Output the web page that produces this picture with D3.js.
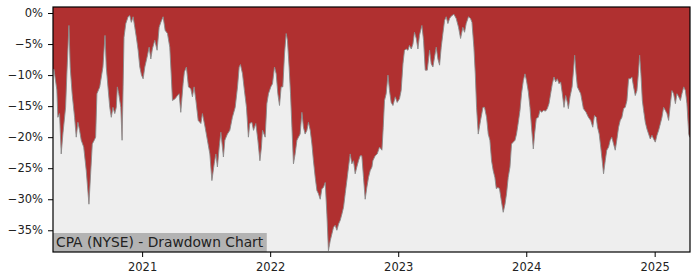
<!DOCTYPE html>
<html>
<head>
<meta charset="utf-8">
<script src="https://cdn.jsdelivr.net/npm/d3@7"></script>
<style>
  body { margin: 0; background: #fff; }
  svg text { font-family: "DejaVu Sans", sans-serif; }
</style>
</head>
<body>
<div id="chart"></div>
<script>
// decimal years and drawdown (%)
const years = [
  2020.313,2020.336,2020.344,2020.357,2020.370,2020.383,2020.404,2020.414,2020.430,2020.440,
  2020.455,2020.474,2020.487,2020.500,2020.513,2020.526,2020.545,2020.565,2020.586,2020.599,
  2020.612,2020.627,2020.638,2020.648,2020.670,2020.695,2020.711,2020.721,2020.734,2020.748,
  2020.760,2020.773,2020.787,2020.799,2020.807,2020.818,2020.834,2020.844,2020.852,2020.859,
  2020.873,2020.891,2020.904,2020.916,2020.930,2020.943,2020.955,2020.969,2020.982,2020.995,
  2021.008,2021.021,2021.039,2021.055,2021.068,2021.080,2021.099,2021.117,2021.133,
  2021.146,2021.164,2021.180,2021.198,2021.216,2021.227,2021.237,2021.258,2021.276,2021.289,
  2021.302,2021.320,2021.330,2021.346,2021.362,2021.380,2021.393,2021.406,2021.420,2021.438,
  2021.459,2021.471,2021.492,2021.510,2021.529,2021.545,2021.563,2021.576,2021.588,2021.602,
  2021.615,2021.627,2021.635,2021.646,2021.666,2021.685,2021.705,2021.727,2021.745,2021.758,
  2021.768,2021.784,2021.799,2021.815,2021.830,2021.841,2021.857,2021.870,2021.888,2021.904,
  2021.920,2021.932,2021.940,2021.961,
  2021.974,2021.987,2022.005,2022.018,2022.034,2022.047,2022.060,2022.073,2022.086,2022.099,
  2022.112,2022.125,2022.135,2022.148,2022.159,2022.170,2022.182,2022.195,2022.209,2022.221,
  2022.234,2022.248,2022.260,2022.273,2022.287,2022.299,2022.313,2022.326,2022.338,2022.352,
  2022.365,2022.377,2022.391,2022.404,2022.416,2022.430,2022.443,2022.455,2022.469,2022.482,
  2022.495,2022.508,2022.521,2022.534,2022.547,2022.560,2022.573,2022.586,2022.599,2022.612,
  2022.625,2022.638,2022.651,2022.664,2022.677,2022.690,2022.703,2022.716,2022.729,2022.742,
  2022.755,2022.768,2022.781,2022.795,
  2022.802,2022.820,2022.836,2022.854,2022.873,2022.883,2022.893,2022.906,2022.920,2022.932,
  2022.945,2022.959,2022.977,2022.992,2023.010,2023.023,2023.037,2023.049,2023.063,2023.076,
  2023.088,2023.102,2023.115,2023.127,2023.141,2023.154,2023.166,2023.185,2023.198,2023.211,
  2023.227,2023.245,2023.258,2023.271,2023.284,2023.297,2023.310,2023.323,2023.336,2023.349,
  2023.362,2023.375,2023.388,2023.401,2023.414,2023.435,2023.453,2023.471,2023.487,2023.505,
  2023.518,2023.531,2023.549,2023.565,2023.576,2023.591,2023.602,2023.612,2023.625,
  2023.643,2023.662,2023.674,2023.690,2023.703,2023.716,2023.729,2023.742,2023.755,2023.766,
  2023.779,2023.791,2023.805,2023.820,2023.834,2023.846,2023.859,2023.873,2023.885,2023.898,
  2023.912,2023.924,2023.938,2023.951,2023.963,2023.977,2023.990,2024.002,2024.016,2024.029,
  2024.041,2024.055,2024.065,2024.078,2024.094,2024.107,2024.120,2024.133,2024.151,2024.164,
  2024.177,2024.190,2024.203,2024.216,2024.229,2024.242,2024.255,2024.268,2024.281,2024.294,
  2024.307,2024.320,2024.328,2024.341,2024.357,2024.370,2024.377,2024.388,2024.398,2024.412,
  2024.424,2024.445,
  2024.466,2024.484,2024.502,2024.518,2024.531,2024.545,2024.555,2024.568,2024.580,2024.594,
  2024.602,2024.615,2024.627,2024.641,2024.654,2024.666,2024.680,2024.693,2024.705,2024.719,
  2024.732,2024.745,2024.758,2024.771,2024.784,2024.797,2024.810,2024.823,2024.836,2024.849,
  2024.862,2024.873,2024.883,2024.893,2024.904,2024.914,2024.927,2024.940,2024.953,2024.966,
  2024.979,2024.992,2025.005,2025.018,2025.031,2025.045,2025.057,2025.070,2025.084,2025.096,
  2025.109,2025.123,2025.135,2025.148,2025.162,2025.174,2025.188,2025.201,2025.213,2025.227,
  2025.240,2025.252,2025.266,2025.273
];

const drawdown = [
  -9.0,-12.4,-16.8,-16.2,-22.7,-19.5,-15.2,-9.8,-2.0,-8.7,
  -13.0,-16.8,-20.0,-17.6,-18.9,-20.5,-21.6,-25.4,-30.8,-25.9,
  -21.1,-20.5,-20.0,-13.0,-11.9,-8.7,-3.6,-8.7,-11.9,-15.2,
  -16.8,-15.2,-16.2,-15.2,-11.9,-13.0,-15.2,-20.5,-11.9,-3.9,
  -1.7,-0.6,-0.4,-1.5,-0.6,-2.3,-3.9,-6.0,-8.7,-10.0,
  -10.6,-8.7,-7.1,-5.5,-7.4,-5.8,-4.4,-6.0,-2.3,
  -1.5,-0.6,-2.8,-3.3,-5.5,-9.8,-14.1,-13.8,-13.3,-13.0,
  -16.0,-11.4,-9.5,-8.7,-11.9,-12.2,-13.5,-11.9,-14.1,-17.3,
  -17.8,-16.2,-18.4,-20.5,-22.7,-27.0,-24.3,-22.7,-24.8,-21.6,
  -19.2,-21.6,-23.2,-20.5,-19.5,-18.9,-16.8,-15.2,-11.9,-8.7,
  -8.3,-9.8,-12.5,-15.2,-20.0,-17.8,-17.6,-18.9,-17.8,-20.5,
  -23.8,-21.6,-18.9,-20.0,
  -14.6,-13.0,-11.9,-11.4,-8.7,-9.8,-13.0,-14.9,-11.9,-11.9,
  -6.6,-3.3,-4.4,-8.7,-13.0,-18.4,-24.3,-22.7,-20.5,-20.0,
  -19.5,-16.0,-18.4,-19.5,-18.9,-17.6,-18.9,-21.1,-23.8,-26.5,
  -28.6,-29.1,-30.0,-28.3,-28.1,-27.3,-32.4,-38.3,-36.7,-35.6,
  -34.5,-34.2,-35.0,-34.0,-33.4,-32.4,-31.3,-29.1,-27.0,-24.8,
  -22.7,-24.3,-23.8,-25.9,-24.8,-23.8,-23.0,-23.0,-26.5,-30.0,
  -28.1,-26.5,-25.4,-24.8,
  -23.8,-23.0,-22.7,-21.6,-22.1,-18.4,-14.1,-13.0,-10.0,-12.5,
  -14.4,-14.9,-13.5,-14.4,-13.8,-12.5,-8.2,-6.0,-5.8,-6.0,
  -5.2,-5.8,-5.0,-3.1,-4.1,-5.8,-3.6,-2.0,-4.4,-9.2,
  -9.2,-6.0,-8.2,-8.7,-7.1,-5.5,-7.4,-8.4,-5.5,-3.3,
  -1.2,-0.6,-1.7,-0.9,-0.5,-0.2,-0.9,-2.3,-4.1,-2.3,
  -3.1,-1.7,-0.6,-0.9,-1.5,-5.5,-9.8,-15.2,-19.5,
  -17.3,-15.2,-15.2,-16.8,-19.5,-20.5,-23.8,-25.4,-26.5,-28.3,
  -28.1,-28.3,-30.2,-32.1,-30.8,-29.1,-26.5,-24.8,-21.1,-20.8,
  -20.5,-19.5,-17.6,-15.7,-13.0,-10.9,-9.8,-10.9,-12.7,-15.2,
  -18.4,-21.9,-19.5,-17.0,-16.8,-15.7,-16.0,-15.7,-15.8,-15.4,
  -14.6,-13.0,-11.4,-10.3,-11.1,-10.6,-11.4,-11.1,-13.0,-15.2,
  -13.3,-14.4,-15.4,-13.5,-11.9,-8.7,-6.8,-9.8,-11.9,-12.5,
  -13.0,-15.4,
  -16.0,-16.8,-17.3,-18.4,-16.5,-16.8,-18.4,-19.5,-21.6,-24.3,
  -25.9,-23.8,-22.1,-21.6,-20.5,-20.0,-21.1,-22.1,-20.5,-18.4,
  -17.3,-16.8,-15.4,-15.2,-14.1,-10.6,-10.6,-10.3,-11.9,-13.3,
  -12.5,-9.8,-6.8,-9.8,-14.1,-15.7,-17.6,-18.7,-19.5,-20.3,
  -19.7,-20.3,-20.8,-19.7,-18.9,-17.8,-16.8,-15.2,-15.7,-16.2,
  -17.3,-14.6,-12.5,-13.0,-14.6,-13.0,-13.5,-14.1,-13.0,-11.9,
  -12.5,-14.6,-19.5,-20.0
];

const yTicks = [0, -5, -10, -15, -20, -25, -30, -35];
const xTickYears = [2021, 2022, 2023, 2024, 2025];
const title = 'CPA (NYSE) - Drawdown Chart';

const width = 700;
const height = 280;
const margin = { top: 7, right: 10, bottom: 28, left: 53 };

// decimal year -> Date
function toDate(t) {
  const y = Math.floor(t);
  const a = Date.UTC(y, 0, 1), b = Date.UTC(y + 1, 0, 1);
  return new Date(a + (t - y) * (b - a));
}

const data = years.map((t, i) => ({ date: toDate(t), dd: drawdown[i] }));

const svg = d3.select('#chart')
  .append('svg')
  .attr('width', width)
  .attr('height', height);

const x = d3.scaleUtc()
  .domain([toDate(2020.306), toDate(2025.276)])
  .range([margin.left, width - margin.right]);

const y = d3.scaleLinear()
  .domain([-38.5, 0.97])
  .range([height - margin.bottom, margin.top]);

svg.append('clipPath').attr('id', 'clip')
  .append('rect')
  .attr('x', margin.left).attr('y', margin.top)
  .attr('width', width - margin.left - margin.right)
  .attr('height', height - margin.top - margin.bottom);

// background of the drawdown region
svg.append('rect')
  .attr('x', margin.left).attr('y', margin.top)
  .attr('width', width - margin.left - margin.right)
  .attr('height', height - margin.top - margin.bottom)
  .attr('fill', '#b03030');

const area = d3.area()
  .x(d => x(d.date))
  .y0(height - margin.bottom)
  .y1(d => y(d.dd));

const line = d3.line()
  .x(d => x(d.date))
  .y(d => y(d.dd));

const plot = svg.append('g').attr('clip-path', 'url(#clip)');

plot.append('path')
  .datum([{ date: x.domain()[0], dd: drawdown[0] }, ...data, { date: x.domain()[1], dd: drawdown[drawdown.length - 1] }])
  .attr('fill', '#eeeeee')
  .attr('d', area);

plot.append('path')
  .datum(data)
  .attr('fill', 'none')
  .attr('stroke', '#8a8a8a')
  .attr('stroke-width', 0.9)
  .attr('d', line);

// title label box at bottom-left
const label = svg.append('g');
const lt = label.append('text')
  .attr('x', margin.left + 3)
  .attr('y', height - margin.bottom - 5)
  .attr('font-size', '13.8px')
  .attr('fill', '#222')
  .text(title);
const bb = lt.node().getBBox();
label.insert('rect', 'text')
  .attr('x', margin.left)
  .attr('y', height - margin.bottom - 19)
  .attr('width', bb.x + bb.width + 3 - margin.left)
  .attr('height', 19)
  .attr('fill', '#b3b3b3');

// axes
const fmtPct = d => (d < 0 ? '\u2212' + Math.abs(d) : d) + '%';

svg.append('g')
  .attr('transform', `translate(${margin.left},0)`)
  .call(d3.axisLeft(y).tickValues(yTicks).tickFormat(fmtPct).tickSize(5).tickPadding(5))
  .call(g => g.select('.domain').remove())
  .attr('font-size', '11.5px')
  .attr('font-family', '"DejaVu Sans", sans-serif');

svg.append('g')
  .attr('transform', `translate(0,${height - margin.bottom})`)
  .call(d3.axisBottom(x).tickValues(xTickYears.map(v => toDate(v))).tickFormat(d3.utcFormat('%Y')).tickSize(5).tickPadding(6))
  .call(g => g.select('.domain').remove())
  .attr('font-size', '11.5px')
  .attr('font-family', '"DejaVu Sans", sans-serif');

svg.selectAll('.tick text').attr('fill', '#222');

// frame
svg.append('rect')
  .attr('x', margin.left).attr('y', margin.top)
  .attr('width', width - margin.left - margin.right)
  .attr('height', height - margin.top - margin.bottom)
  .attr('fill', 'none')
  .attr('stroke', '#000')
  .attr('stroke-width', 1.2);
</script>
</body>
</html>
